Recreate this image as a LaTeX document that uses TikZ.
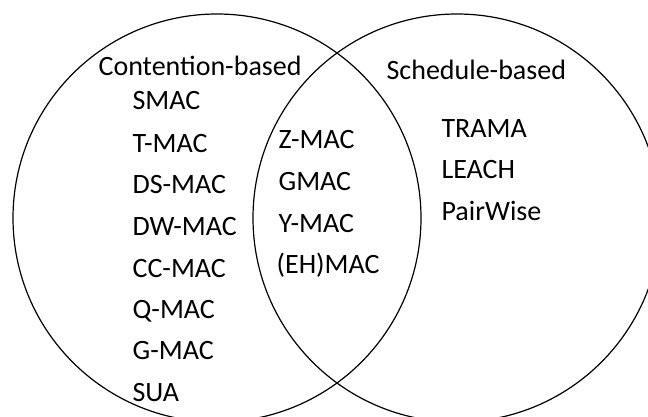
\documentclass[tikz,border=0pt]{standalone}
\usepackage{fontspec}
\setmainfont{Carlito}
\tikzset{SET/.style = {
    circle,
    minimum size = 408pt,
    inner sep = 0pt,
    draw = black,
}}
\tikzset{MAC/.style = {
    anchor = base west,
    inner sep = 0pt,
}}

\begin{document}
\begin{tikzpicture}[x=1pt,y=1pt,line width=1.2pt]
  \fontsize{28}{33}\selectfont
  \useasboundingbox (0,0) rectangle (648,416);
  \node[SET](cb) at (217,198) {};
  \node[SET](sb) at (457,198) {};
  % contention-based side
  \node[MAC](cbt) at ( 98,341) {Contention-based};
  \node[MAC](smac)  at (132,306) {SMAC};
  \node[MAC](tmac)  at (132,264) {T-MAC};
  \node[MAC](dsmac) at (132,223) {DS-MAC};
  \node[MAC](dwmac) at (132,181) {DW-MAC};
  \node[MAC](ccmac) at (132,139) {CC-MAC};
  \node[MAC](qmac)  at (132, 98) {Q-MAC};
  \node[MAC](gmac)  at (132, 57) {G-MAC};
  \node[MAC](sua)   at (132, 15) {SUA};
  % hybrids in the overlap
  \node[MAC](zmac)  at (278,268) {Z-MAC};
  \node[MAC](gmac2) at (278,226) {GMAC};
  \node[MAC](ymac)  at (278,184) {Y-MAC};
  \node[MAC](ehmac) at (276,143) {(EH)MAC};
  % schedule-based side
  \node[MAC](sbt) at (386,337) {Schedule-based};
  \node[MAC](trama) at (441,279) {TRAMA};
  \node[MAC](leach) at (441,238) {LEACH};
  \node[MAC](pw)    at (441,196) {PairWise};
\end{tikzpicture}
\end{document}
